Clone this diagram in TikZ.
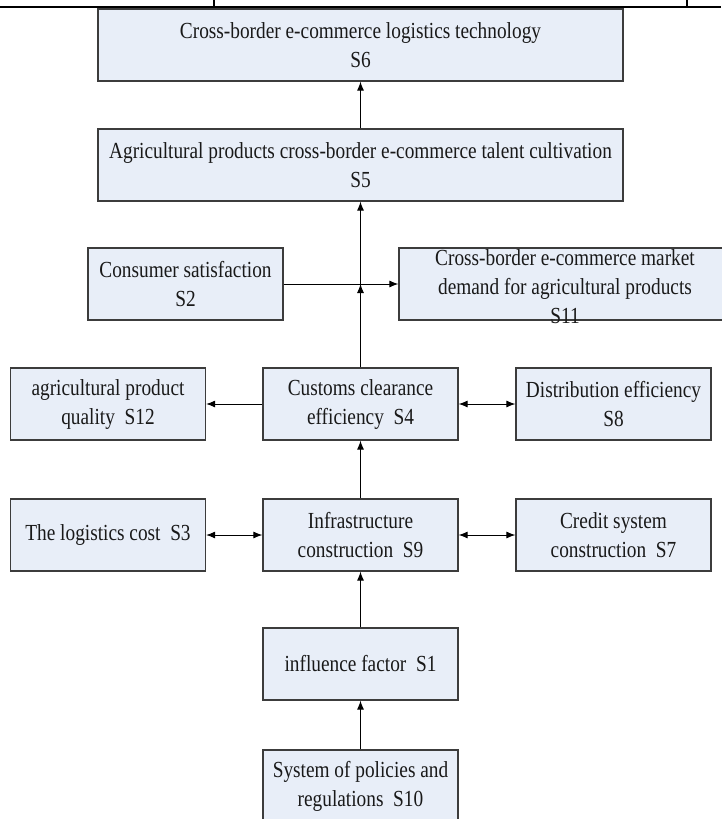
\documentclass[tikz,border=0pt]{standalone}
\usepackage{fontspec}
\setmainfont[FakeStretch=0.84]{Liberation Serif}
\usepackage{tikz}
\usetikzlibrary{arrows.meta}
\definecolor{boxfill}{RGB}{232,238,248}
\definecolor{boxline}{RGB}{60,60,60}

\begin{document}
\begin{tikzpicture}[x=1pt, y=-1pt,
    boxtext/.style={align=center, font=\fontsize{23}{29}\selectfont, text=black!90},
    box/.style={boxtext, draw=boxline, fill=boxfill, line width=1.2pt, inner sep=0pt,
                minimum width=195pt, minimum height=72pt},
    wide/.style={box, minimum width=525pt},
    >={Latex[length=9pt,width=7pt]},
    link/.style={->, line width=1pt}]
  \useasboundingbox (0,0) rectangle (721,819);

  % table rule above the figure
  \draw[line width=2pt] (0,7) -- (721,7);
  \draw[line width=1.5pt] (214,0) -- (214,7) (687,0) -- (687,7);

  \node[wide] (s6) at (360.5, 45) {Cross-border e-commerce logistics technology\\S6};
  \node[wide] (s5) at (360.5, 165) {Agricultural products cross-border e-commerce talent cultivation\\S5};

  \node[box] (s2) at (185.5, 284) {Consumer satisfaction\\S2};
  \node[box, minimum width=332pt,
        label={[boxtext, yshift=-3pt]center:Cross-border e-commerce market\\demand for agricultural products\\S11}]
        (s11) at (565, 284) {};

  \node[box] (s12) at (108, 404) {agricultural product\\quality\ \ S12};
  \node[box] (s4) at (360.5, 404) {Customs clearance\\efficiency\ \ S4};
  \node[box] (s8) at (613.5, 404) {Distribution efficiency\\S8};

  \node[box] (s3) at (108, 535) {The logistics cost\ \ S3};
  \node[box] (s9) at (360.5, 535) {Infrastructure\\construction\ \ S9};
  \node[box] (s7) at (613.5, 535) {Credit system\\construction\ \ S7};

  \node[box] (s1) at (360.5, 664) {influence factor\ \ S1};
  \node[box] (s10) at (360.5, 786) {System of policies and\\regulations\ \ S10};

  % connectors
  \coordinate (cross) at (s4.north |- s2.east);
  \draw[link] (s5) -- (s6);
  \draw[link] (s4) -- (cross);
  \draw[link] (cross) -- (s5);
  \draw[link] (s2) -- (s11);
  \draw[link] (s4) -- (s12);
  \draw[link, <->] (s4) -- (s8);
  \draw[link] (s9) -- (s4);
  \draw[link, <->] (s3) -- (s9);
  \draw[link, <->] (s9) -- (s7);
  \draw[link] (s1) -- (s9);
  \draw[link] (s10) -- (s1);
\end{tikzpicture}
\end{document}
